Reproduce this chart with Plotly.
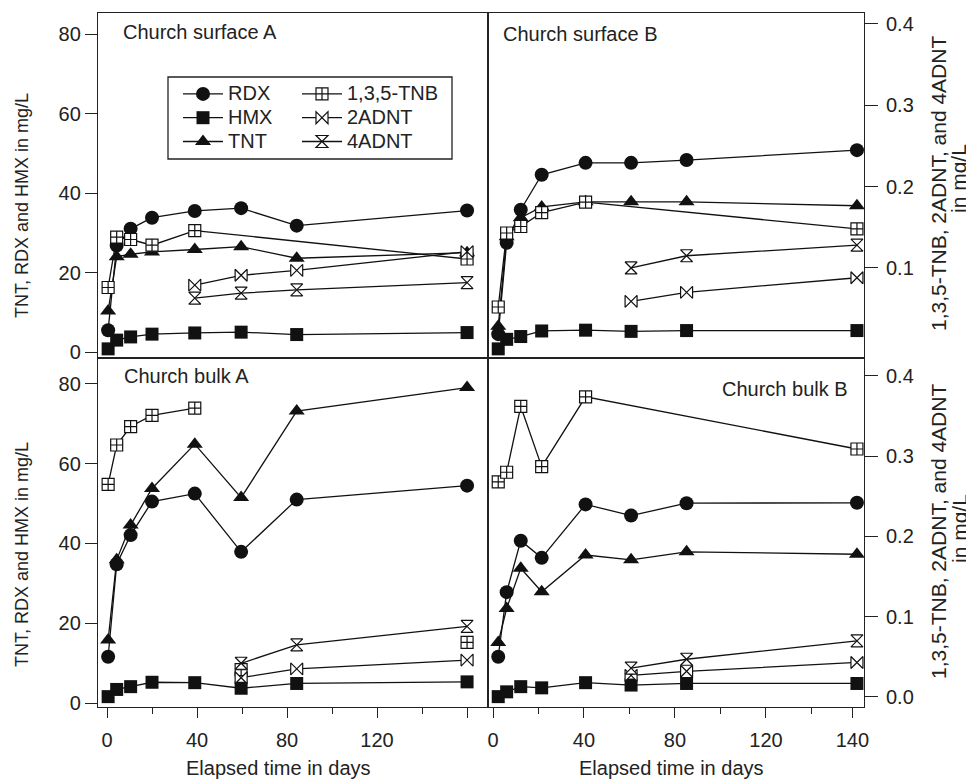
import plotly.graph_objects as go

# ---------------- data ----------------
DAYS_A = [0.5, 4.3, 10.5, 20, 39, 59.6, 84.3, 160]
DAYS_B = [2.3, 6.0, 12.2, 21.4, 40.7, 60.7, 85.1, 160]

# Church surface A
RDX_SA = [5.5, 26.8, 31.0, 33.8, 35.5, 36.2, 31.8, 35.6]
HMX_SA = [0.8, 3.0, 3.8, 4.5, 4.8, 5.0, 4.4, 4.9]
TNT_SA = [10.3, 24.0, 24.6, 25.2, 25.8, 26.5, 23.6, 25.0]
TNB_SA = [0.076, 0.138, 0.135, 0.128, 0.146, None, None, 0.111]
ADNT2_SA = [None, None, None, None, 0.079, 0.091, 0.097, 0.120]
ADNT4_SA = [None, None, None, None, 0.063, 0.069, 0.073, 0.082]

# Church surface B
RDX_SB = [4.5, 27.5, 35.8, 44.6, 47.6, 47.6, 48.3, 50.8]
HMX_SB = [0.8, 3.2, 3.9, 5.3, 5.5, 5.2, 5.4, 5.4]
TNT_SB = [6.5, 29.0, 33.8, 36.5, 37.8, 37.8, 37.8, 36.8]
TNB_SB = [0.052, 0.143, 0.151, 0.168, 0.181, None, None, 0.148]
ADNT2_SB = [None, None, None, None, None, 0.059, 0.070, 0.088]
ADNT4_SB = [None, None, None, None, None, 0.100, 0.115, 0.128]

# Church bulk A
RDX_BA = [11.6, 34.8, 42.1, 50.5, 52.5, 37.9, 51.0, 54.5]
HMX_BA = [1.6, 3.4, 4.1, 5.2, 5.1, 3.7, 4.9, 5.3]
TNT_BA = [15.8, 35.9, 44.6, 53.8, 64.9, 51.5, 73.2, 79.1]
TNB_BA = [0.265, 0.314, 0.337, 0.351, 0.360, 0.034, None, 0.068]
ADNT2_BA = [None, None, None, None, None, 0.024, 0.035, 0.046]
ADNT4_BA = [None, None, None, None, None, 0.042, 0.065, 0.088]

# Church bulk B
RDX_BB = [11.6, 27.8, 40.7, 36.4, 49.8, 47.0, 50.1, 50.2]
HMX_BB = [1.6, 2.8, 4.1, 3.8, 5.1, 4.5, 4.9, 4.9]
TNT_BB = [15.2, 23.7, 33.8, 27.9, 37.1, 35.9, 37.9, 37.3]
TNB_BB = [0.268, 0.280, 0.362, 0.287, 0.374, None, None, 0.309]
ADNT2_BB = [None, None, None, None, None, 0.027, 0.032, 0.043]
ADNT4_BB = [None, None, None, None, None, 0.036, 0.047, 0.070]

LEFT_TICKS = [0, 20, 40, 60, 80]
RIGHT_TICKS = [0.0, 0.1, 0.2, 0.3, 0.4]
X_MAJOR_A = [0, 40, 80, 120, 160]
X_LABELS_A = ["0", "40", "80", "120", ""]
X_MAJOR_B = [0, 40, 80, 120, 158]
X_LABELS_B = ["0", "40", "80", "120", "140"]
X_MINOR = [20, 60, 100, 140]

# ---------------- geometry (page pixels) ----------------
FW, FH = 974, 779
OFF = 8                     # page body margin
L, R, T, B = 98, 864, 13, 707
XDIV, YDIV = 488, 358
W, H = R - L, B - T


def px(x):
    return (x - L) / W


def py(y):
    return (B - y) / H


FONT = "Liberation Sans, Arial, sans-serif"
INK = "#111111"

fig = go.Figure()

STY = {
    "RDX": dict(symbol="circle", size=14, color=INK, line=dict(width=0)),
    "HMX": dict(symbol="square", size=13, color=INK, line=dict(width=0)),
    "TNT": dict(symbol="triangle-up", size=14, color=INK, line=dict(width=0)),
    "1,3,5-TNB": dict(symbol="square-cross", size=12, color="white", line=dict(width=1.2, color=INK)),
    "2ADNT": dict(symbol="bowtie", size=12, color="white", line=dict(width=1.2, color=INK)),
    "4ADNT": dict(symbol="hourglass", size=12, color="white", line=dict(width=1.2, color=INK)),
}

panels = [
    ("x", "y", "y5", DAYS_A, [RDX_SA, HMX_SA, TNT_SA, TNB_SA, ADNT2_SA, ADNT4_SA], True),
    ("x2", "y2", "y6", DAYS_B, [RDX_SB, HMX_SB, TNT_SB, TNB_SB, ADNT2_SB, ADNT4_SB], False),
    ("x3", "y3", "y7", DAYS_A, [RDX_BA, HMX_BA, TNT_BA, TNB_BA, ADNT2_BA, ADNT4_BA], False),
    ("x4", "y4", "y8", DAYS_B, [RDX_BB, HMX_BB, TNT_BB, TNB_BB, ADNT2_BB, ADNT4_BB], False),
]
names = ["RDX", "HMX", "TNT", "1,3,5-TNB", "2ADNT", "4ADNT"]

for xa, ya, yb, days, series, show in panels:
    for i in [3, 4, 5, 0, 2, 1]:
        name = names[i]
        vals = series[i]
        yref = ya if i < 3 else yb
        legend = "legend" if i < 3 else "legend2"
        label = "<span style='font-size:20px'>%s</span>" % name
        if xa == "x3" and name == "1,3,5-TNB":
            fig.add_trace(go.Scatter(x=days[:5], y=vals[:5], mode="lines+markers", name=label,
                                     xaxis=xa, yaxis=yref, showlegend=False,
                                     line=dict(color=INK, width=1.3), marker=STY[name]))
            fig.add_trace(go.Scatter(x=days[5:], y=vals[5:], mode="markers", name=label,
                                     xaxis=xa, yaxis=yref, showlegend=False, marker=STY[name]))
            continue
        fig.add_trace(go.Scatter(x=days, y=vals, mode="lines+markers", name=label,
                                 xaxis=xa, yaxis=yref, showlegend=show, legend=legend,
                                 connectgaps=True,
                                 line=dict(color=INK, width=1.3), marker=STY[name],
                                 legendrank=i))

AX = dict(showgrid=False, zeroline=False, showline=True, mirror=True,
          linecolor="#222222", linewidth=1.3,
          tickfont=dict(family=FONT, size=20, color="#222222"),
          ticks="outside", tickcolor="#222222", tickwidth=1.3)

xl = [0, px(XDIV)]
xr = [px(XDIV), 1]
yu = [py(YDIV), 1]
yd = [0, py(YDIV)]
XR_A = [-4, 169.3]
XR_B = [-2.2, 163.1]

LEG = dict(xanchor="left", yanchor="top", bgcolor="rgba(0,0,0,0)", borderwidth=0,
           font=dict(family=FONT, size=16, color="#222222"), tracegroupgap=0, itemwidth=40)

MINOR = dict(tickmode="array", tickvals=X_MINOR, ticks="outside", ticklen=6,
             tickcolor="#222222", tickwidth=1.3)

layout = dict(
    width=FW - OFF, height=FH - OFF,
    margin=dict(l=L - OFF, r=FW - R, t=T - OFF, b=FH - B, pad=0),
    paper_bgcolor="white", plot_bgcolor="white",
    font=dict(family=FONT, size=20, color="#222222"),
    xaxis=dict(AX, domain=xl, range=XR_A, anchor="y", ticks="", showticklabels=False),
    xaxis2=dict(AX, domain=xr, range=XR_B, anchor="y2", ticks="", showticklabels=False),
    xaxis3=dict(AX, domain=xl, range=XR_A, anchor="y3", tickmode="array",
                tickvals=X_MAJOR_A, ticktext=X_LABELS_A, ticklen=10,
                ticklabelstandoff=5, minor=MINOR),
    xaxis4=dict(AX, domain=xr, range=XR_B, anchor="y4", tickmode="array",
                tickvals=X_MAJOR_B, ticktext=X_LABELS_B, ticklen=10,
                ticklabelstandoff=5, minor=MINOR),
    yaxis=dict(AX, domain=yu, range=[-1.5, 85.3], anchor="x", tickmode="array",
               tickvals=LEFT_TICKS, ticklen=12),
    yaxis2=dict(AX, domain=yu, range=[-1.5, 85.3], anchor="x2", ticks="", showticklabels=False),
    yaxis3=dict(AX, domain=yd, range=[-1.0, 86.5], anchor="x3", tickmode="array",
                tickvals=LEFT_TICKS, ticklen=12),
    yaxis4=dict(AX, domain=yd, range=[-1.0, 86.5], anchor="x4", ticks="", showticklabels=False),
    yaxis5=dict(overlaying="y", anchor="x", range=[-0.0107, 0.4135], showgrid=False,
                zeroline=False, showline=False, showticklabels=False, ticks=""),
    yaxis6=dict(AX, overlaying="y2", anchor="x2", side="right", range=[-0.0107, 0.4135],
                showline=False, mirror=False, tickmode="array", tickvals=RIGHT_TICKS[1:],
                tickformat=".1f", ticklen=13, ticklabelstandoff=4),
    yaxis7=dict(overlaying="y3", anchor="x3", range=[-0.0125, 0.4224], showgrid=False,
                zeroline=False, showline=False, showticklabels=False, ticks=""),
    yaxis8=dict(AX, overlaying="y4", anchor="x4", side="right", range=[-0.0125, 0.4224],
                showline=False, mirror=False, tickmode="array", tickvals=RIGHT_TICKS,
                tickformat=".1f", ticklen=13, ticklabelstandoff=4),
    legend=dict(LEG, x=px(178), y=py(77)),
    legend2=dict(LEG, x=px(297), y=py(77)),
    showlegend=True,
)
fig.update_layout(**layout)

# legend frame
fig.add_shape(type="rect", xref="paper", yref="paper",
              x0=px(168), x1=px(452), y0=py(159), y1=py(77),
              line=dict(color="#222222", width=1.3), fillcolor="rgba(0,0,0,0)")

ann = []


def add_text(text, x, y, size=20, xanchor="center", angle=0):
    ann.append(dict(text=text, x=px(x), y=py(y), xref="paper", yref="paper",
                    xanchor=xanchor, yanchor="middle", showarrow=False, textangle=angle,
                    font=dict(family=FONT, size=size, color="#222222")))


add_text("Church surface A", 121, 32, xanchor="left")
add_text("Church surface B", 501, 34, xanchor="left")
add_text("Church bulk A", 122, 376, xanchor="left")
add_text("Church bulk B", 850, 389, xanchor="right")
add_text("TNT, RDX and HMX in mg/L", 22, 206, size=18, angle=-90)
add_text("TNT, RDX and HMX in mg/L", 22, 555, size=18, angle=-90)
add_text("1,3,5-TNB, 2ADNT, and 4ADNT", 938, 184, size=21, angle=-90)
add_text("in mg/L", 959, 178, size=21, angle=-90)
add_text("1,3,5-TNB, 2ADNT, and 4ADNT", 938, 532, size=21, angle=-90)
add_text("in mg/L", 959, 528, size=21, angle=-90)
add_text("Elapsed time in days", 278, 768)
add_text("Elapsed time in days", 671, 768)
fig.update_layout(annotations=ann)

fig.write_html("out.html")
